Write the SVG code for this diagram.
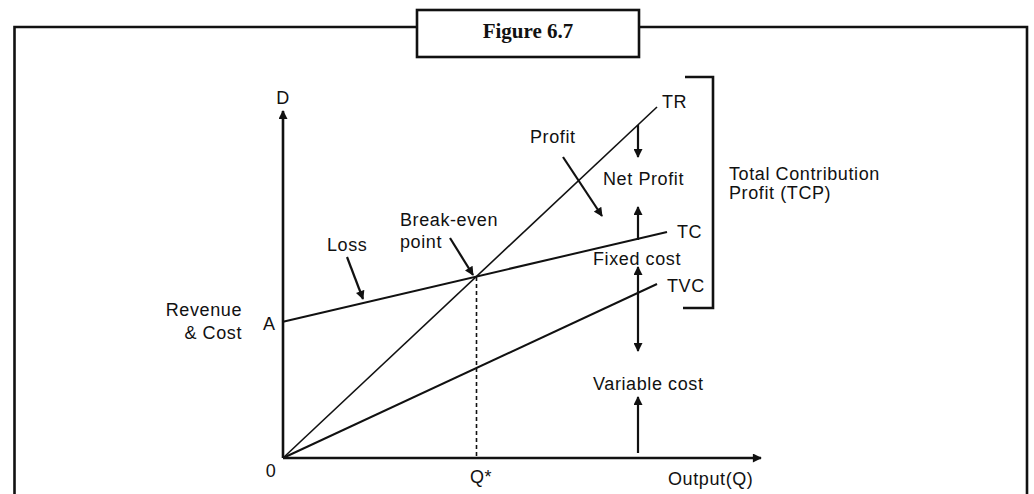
<svg xmlns="http://www.w3.org/2000/svg" width="1034" height="494" viewBox="0 0 1034 494">
  <style>
    .lbl { font-family: "Liberation Sans", Arial, sans-serif; font-size: 18px; letter-spacing: 0.6px; fill: #111; }
    .title { font-family: "Liberation Serif", "Times New Roman", serif; font-size: 21px; font-weight: bold; fill: #111; }
    .frame { fill: none; stroke: #111; stroke-width: 2.6; }
    .axis { stroke: #111; stroke-width: 2.6; fill: none; }
    .curve { stroke: #111; stroke-width: 2; fill: none; }
    .thin { stroke: #111; stroke-width: 1.6; fill: none; }
    .ptr { stroke: #111; stroke-width: 2.2; fill: none; }
  </style>
  <defs>
    <marker id="head" viewBox="0 0 10 10" refX="9" refY="5" markerWidth="10" markerHeight="9" markerUnits="userSpaceOnUse" orient="auto-start-reverse">
      <path d="M0,0 L10,5 L0,10 Z" fill="#111"/>
    </marker>
  </defs>
  <rect width="1034" height="494" fill="#fff"/>

  <!-- outer frame with the caption box on its top edge -->
  <g id="frame">
    <path class="frame" d="M14.5,500 V27 H1027 V500"/>
  </g>
  <g id="caption">
    <rect x="417" y="10" width="222" height="47" fill="#fff" stroke="#111" stroke-width="2.6"/>
    <text class="title" x="528" y="38" text-anchor="middle">Figure 6.7</text>
  </g>

  <!-- axes -->
  <g id="axes">
    <line class="axis" x1="283" y1="458" x2="283" y2="111" marker-end="url(#head)"/>
    <line class="axis" x1="283" y1="458" x2="761" y2="458" marker-end="url(#head)"/>
    <text class="lbl" x="283" y="104" text-anchor="middle">D</text>
    <text class="lbl" x="271" y="477" text-anchor="middle">0</text>
    <text class="lbl" x="470" y="483">Q*</text>
    <text class="lbl" x="668" y="485">Output(Q)</text>
    <text class="lbl" x="242" y="316" text-anchor="end">Revenue</text>
    <text class="lbl" x="242" y="339" text-anchor="end">&amp; Cost</text>
    <text class="lbl" x="263" y="330">A</text>
  </g>

  <!-- revenue and cost lines -->
  <g id="lines">
    <line class="thin" x1="283" y1="458" x2="657" y2="107"/>
    <line class="curve" x1="283" y1="321.7" x2="667" y2="232"/>
    <line class="curve" x1="283" y1="458" x2="657" y2="284"/>
    <line stroke="#111" stroke-width="1.6" stroke-dasharray="4,3" x1="476.5" y1="277" x2="476.5" y2="458"/>
    <text class="lbl" x="662" y="108">TR</text>
    <text class="lbl" x="677" y="238">TC</text>
    <text class="lbl" x="667" y="292">TVC</text>
  </g>

  <!-- bracket for total contribution profit -->
  <g id="tcp">
    <path class="axis" d="M685,77 H713 V308 H683"/>
    <text class="lbl" x="729" y="180">Total Contribution</text>
    <text class="lbl" x="729" y="199">Profit (TCP)</text>
  </g>

  <!-- region labels and pointers -->
  <g id="connectors">
    <line class="ptr" x1="638" y1="125" x2="638" y2="157" marker-end="url(#head)"/>
    <line class="ptr" x1="638" y1="240" x2="638" y2="207" marker-end="url(#head)"/>
    <line class="ptr" x1="638" y1="267" x2="638" y2="351" marker-start="url(#head)" marker-end="url(#head)"/>
    <line class="ptr" x1="638" y1="453" x2="638" y2="397" marker-end="url(#head)"/>
    <line class="ptr" x1="563" y1="157" x2="602" y2="216" marker-end="url(#head)"/>
    <line class="ptr" x1="450" y1="238" x2="473" y2="275" marker-end="url(#head)"/>
    <line class="ptr" x1="347" y1="257" x2="363" y2="299" marker-end="url(#head)"/>
  </g>
  <g id="labels">
    <text class="lbl" x="530" y="143">Profit</text>
    <text class="lbl" x="603" y="185">Net Profit</text>
    <text class="lbl" x="593" y="265">Fixed cost</text>
    <text class="lbl" x="593" y="390">Variable cost</text>
    <text class="lbl" x="327" y="251">Loss</text>
    <text class="lbl" x="400" y="226">Break-even</text>
    <text class="lbl" x="400" y="248">point</text>
  </g>
</svg>
